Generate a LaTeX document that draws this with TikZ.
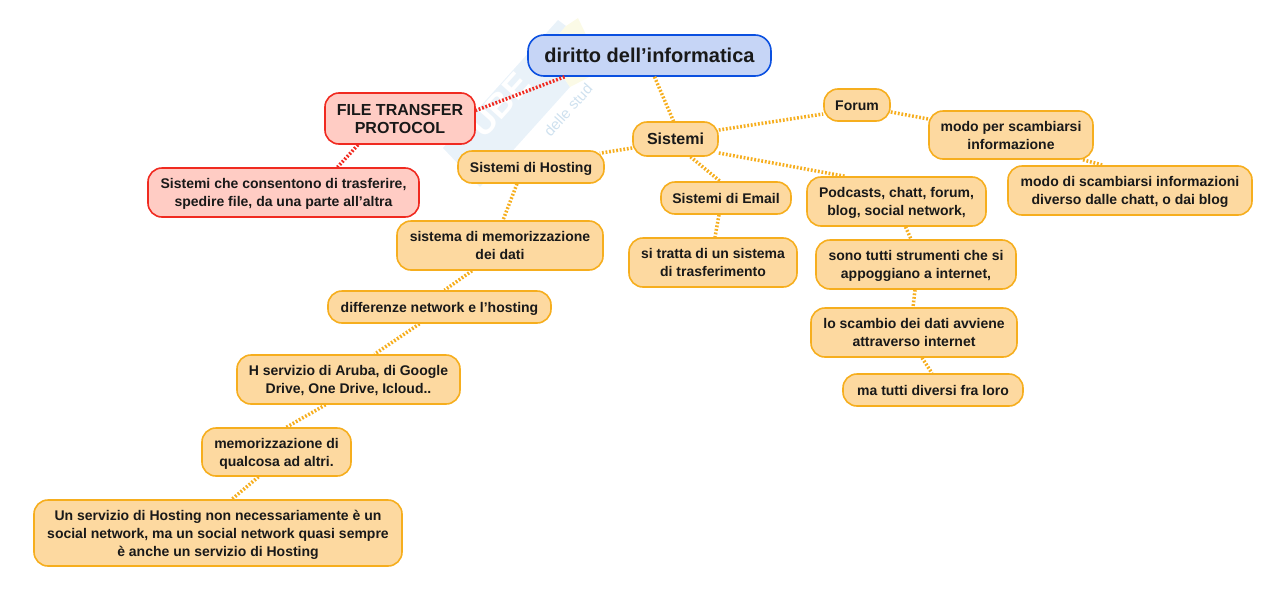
\documentclass[tikz,border=0pt]{standalone}
\usepackage{fontspec}
\setmainfont{Liberation Sans}
\definecolor{nodefill}{HTML}{FDD9A0}
\definecolor{nodeline}{HTML}{F6AE1E}
\definecolor{rootfill}{HTML}{C6D5F6}
\definecolor{rootline}{HTML}{0B50E0}
\definecolor{redfill}{HTML}{FFCCC4}
\definecolor{redline}{HTML}{F02A20}
\definecolor{markblue}{HTML}{E9F2F9}
\definecolor{markyellow}{HTML}{FBFAE6}
\definecolor{marktint}{HTML}{CFE1EF}
\tikzset{
  topic/.style={draw=nodeline, fill=nodefill, line width=1.6pt, rounded corners=14pt,
    inner sep=0pt, align=center, text depth=0pt, font=\fontsize{14}{18}\selectfont\bfseries, text=black!90},
  redtopic/.style={topic, draw=redline, fill=redfill},
  oneline/.style={text height=10.5pt},
  link/.style={nodeline, line width=3.5pt, dash pattern=on 1.8pt off 1.8pt},
  redlink/.style={link, redline}
}
\begin{document}
\begin{tikzpicture}[x=1pt, y=-1pt]
  \useasboundingbox (0,0) rectangle (1286,600);

  % watermark
  \fill[markblue] (443,148) -- (558,20) -- (566,26) -- (545,50) -- (570,87) -- (480,187) -- cycle;
  \fill[markyellow] (566,26) -- (578,18) -- (603,70) -- (570,87) -- (545,50) -- cycle;
  \node[white, rotate=48, font=\fontsize{34}{34}\selectfont\bfseries] (markname) at (500,105) {UBE};
  \node[marktint, rotate=48, font=\fontsize{15}{15}\selectfont] (marktext) at (568,110) {delle stud};

  % main nodes
  \node[topic, rounded corners=16pt, draw=rootline, fill=rootfill, minimum width=243pt, minimum height=41pt, font=\fontsize{20}{24}\selectfont\bfseries] (root) at (649.5,55.5) {diritto dell'informatica};
  \node[redtopic, minimum width=150pt, minimum height=51pt, font=\fontsize{16}{18}\selectfont\bfseries] (ftp) at (400,118.5) {FILE TRANSFER\\PROTOCOL};
  \node[redtopic, minimum width=271pt, minimum height=49pt] (ftpnote) at (283.5,192.5) {Sistemi che consentono di trasferire,\\spedire file, da una parte all'altra};
  \node[topic, minimum width=85pt, minimum height=34pt, font=\fontsize{16}{18}\selectfont\bfseries] (sistemi) at (675.5,139) {Sistemi};

  % right branch
  \node[topic, oneline, minimum width=66pt, minimum height=32pt] (forum) at (857,105) {Forum};
  \node[topic, minimum width=164pt, minimum height=48pt] (scambio) at (1011,135) {modo per scambiarsi\\informazione};
  \node[topic, minimum width=244pt, minimum height=49pt] (diverso) at (1130,190.5) {modo di scambiarsi informazioni\\diverso dalle chatt, o dai blog};
  \node[topic, minimum width=179pt, minimum height=49pt] (podcast) at (896.5,201.5) {Podcasts, chatt, forum,\\blog, social network,};
  \node[topic, minimum width=200pt, minimum height=49pt] (strumenti) at (916,264.5) {sono tutti strumenti che si\\appoggiano a internet,};
  \node[topic, minimum width=206pt, minimum height=49pt] (dati) at (914,332.5) {lo scambio dei dati avviene\\attraverso internet};
  \node[topic, oneline, minimum width=180pt, minimum height=32pt] (diversi) at (933,390) {ma tutti diversi fra loro};

  % email
  \node[topic, oneline, minimum width=130pt, minimum height=32pt] (email) at (726,198) {Sistemi di Email};
  \node[topic, minimum width=168pt, minimum height=49pt] (tratta) at (713,262.5) {si tratta di un sistema\\di trasferimento};

  % hosting branch
  \node[topic, oneline, minimum width=146pt, minimum height=32pt] (hosting) at (531,167) {Sistemi di Hosting};
  \node[topic, minimum width=206pt, minimum height=49pt] (memoria) at (500,245.5) {sistema di memorizzazione\\dei dati};
  \node[topic, oneline, minimum width=223pt, minimum height=32pt] (differenze) at (439.5,307) {differenze network e l'hosting};
  \node[topic, minimum width=223pt, minimum height=49pt] (aruba) at (348.5,379.5) {H servizio di Aruba, di Google\\Drive, One Drive, Icloud..};
  \node[topic, minimum width=149pt, minimum height=48pt] (altri) at (276.5,452) {memorizzazione di\\qualcosa ad altri.};
  \node[topic, minimum width=368pt, minimum height=66pt] (servizio) at (218,533) {Un servizio di Hosting non necessariamente è un\\social network, ma un social network quasi sempre\\è anche un servizio di Hosting};

  % links
  \draw[redlink] ([xshift=-85pt]root.south) -- ([yshift=8pt]ftp.east);
  \draw[redlink] ([xshift=-42pt]ftp.south) -- ([xshift=54pt]ftpnote.north);
  \draw[link] ([xshift=5pt]root.south) -- ([xshift=-2pt]sistemi.north);
  \draw[link] ([yshift=9pt]sistemi.east) -- ([yshift=-9pt]forum.west);
  \draw[link] ([yshift=-7pt]forum.east) -- ([yshift=16pt]scambio.west);
  \draw[link] ([xshift=72pt]scambio.south) -- ([xshift=-27pt]diverso.north);
  \draw[link] ([yshift=-14pt]sistemi.east) -- ([xshift=-52pt]podcast.north);
  \draw[link] ([xshift=15pt]sistemi.south) -- ([xshift=-6pt]email.north);
  \draw[link] ([xshift=-7pt]email.south) -- ([xshift=2pt]tratta.north);
  \draw[link] ([xshift=9pt]podcast.south) -- ([xshift=-5pt]strumenti.north);
  \draw[link] ([xshift=-1pt]strumenti.south) -- ([xshift=-1pt]dati.north);
  \draw[link] ([xshift=8pt]dati.south) -- ([xshift=-1pt]diversi.north);
  \draw[link] ([yshift=-9pt]sistemi.west) -- ([xshift=-5pt,yshift=-3pt]hosting.north east);
  \draw[link] ([xshift=-14pt]hosting.south) -- ([xshift=3pt]memoria.north);
  \draw[link] ([xshift=-28pt]memoria.south) -- ([xshift=5pt]differenze.north);
  \draw[link] ([xshift=-20pt]differenze.south) -- ([xshift=26pt]aruba.north);
  \draw[link] ([xshift=-23pt]aruba.south) -- ([xshift=10pt]altri.north);
  \draw[link] ([xshift=-18pt]altri.south) -- ([xshift=14pt]servizio.north);
\end{tikzpicture}
\end{document}
